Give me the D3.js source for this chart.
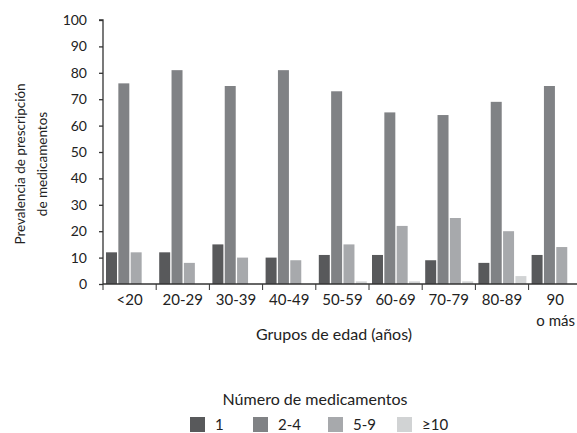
<html>
  <head>
    <meta charset="utf-8">
    <script src="https://d3js.org/d3.v7.min.js"></script>
  </head>
  <body style="margin:0">
    <svg id="chart" width="577" height="433"></svg>
    <script>
      // data
      const groups = ['<20', '20-29', '30-39', '40-49', '50-59', '60-69', '70-79', '80-89', '90\no más'];
      const seriesNames = ['1', '2-4', '5-9', '≥10'];
      const s1 = [12, 12, 15, 10, 11, 11, 9, 8, 11];
      const s2 = [76, 81, 75, 81, 73, 65, 64, 69, 75];
      const s3 = [12, 8, 10, 9, 15, 22, 25, 20, 14];
      const s4 = [0, 0, 0, 0, 1, 1, 1, 3, 0];
      const yTicks = [0, 10, 20, 30, 40, 50, 60, 70, 80, 90, 100];
      const colors = ['#58595b', '#808285', '#a7a9ac', '#d1d3d4'];

      const allSeries = [s1, s2, s3, s4];
      const font = 'Lato, "Open Sans", sans-serif';

      const svg = d3.select('svg#chart');
      const plotLeft = 103, plotTop = 20, plotBottom = 284;
      const groupW = 53.2;

      const xScale = d3.scaleBand().domain(groups).range([plotLeft, plotLeft + groups.length * groupW]);
      const inner = d3.scaleBand().domain(seriesNames).range([3, 51]).paddingInner(0.11);
      const yScale = d3.scaleLinear().domain([0, 100]).range([plotBottom, plotTop]);

      // y axis
      const yAxis = svg.append('g')
        .attr('transform', `translate(${plotLeft},0)`)
        .call(d3.axisLeft(yScale).tickValues(yTicks).tickSize(4).tickPadding(12));
      yAxis.select('.domain').attr('d', `M-4,${plotTop}H0V${plotBottom}`);

      // bars
      allSeries.forEach((vals, si) => {
        svg.append('g').selectAll('rect')
          .data(vals)
          .join('rect')
          .attr('x', (d, i) => xScale(groups[i]) + inner(seriesNames[si]))
          .attr('width', inner.bandwidth())
          .attr('y', d => yScale(d))
          .attr('height', d => plotBottom - yScale(d))
          .attr('fill', colors[si]);
      });

      // x axis: ticks at group boundaries
      const xAxis = svg.append('g').attr('transform', `translate(0,${plotBottom})`);
      xAxis.append('line').attr('x1', plotLeft).attr('x2', 577).attr('stroke', '#333').attr('stroke-width', 1.3);
      xAxis.selectAll('line.tick')
        .data(groups)
        .join('line')
        .attr('class', 'tick')
        .attr('x1', d => xScale(d)).attr('x2', d => xScale(d))
        .attr('y1', 0).attr('y2', 6)
        .attr('stroke', '#333');
      xAxis.selectAll('text')
        .data(groups)
        .join('text')
        .attr('y', 21)
        .attr('text-anchor', 'middle')
        .style('font-family', font)
        .style('font-size', '15px')
        .attr('fill', '#222')
        .each(function(d) {
          const lines = d.split('\n');
          lines.forEach((l, k) => {
            const t = d3.select(this).append('tspan')
              .attr('x', xScale(d) + xScale.bandwidth() / 2)
              .attr('dy', k === 0 ? 0 : 21)
              .text(l);
            // second line of the last label sits flush with the right edge
            if (k > 0) t.attr('x', 575).attr('text-anchor', 'end');
          });
        });

      yAxis.selectAll('.tick text').style('font-family', font).style('font-size', '14px').attr('fill', '#222');
      yAxis.selectAll('.tick line, .domain').attr('stroke', '#333').attr('stroke-width', 1.3);

      // axis titles
      const yTitle = svg.append('text')
        .attr('transform', 'translate(0,164) rotate(-90)')
        .attr('text-anchor', 'middle')
        .style('font-family', font)
        .style('font-size', '13.5px')
        .attr('fill', '#222');
      yTitle.append('tspan').attr('x', 0).attr('y', 25).text('Prevalencia de prescripción');
      yTitle.append('tspan').attr('x', 0).attr('y', 47).text('de medicamentos');

      svg.append('text')
        .attr('x', 334).attr('y', 340)
        .attr('text-anchor', 'middle')
        .style('font-family', font).style('font-size', '16px').attr('fill', '#222')
        .text('Grupos de edad (años)');

      // legend
      svg.append('text')
        .attr('x', 315).attr('y', 405)
        .attr('text-anchor', 'middle')
        .style('font-family', font).style('font-size', '16px').attr('fill', '#222')
        .text('Número de medicamentos');

      const legendX = [190, 253, 328, 397];
      const legend = svg.append('g').selectAll('g')
        .data(seriesNames)
        .join('g')
        .attr('transform', (d, i) => `translate(${legendX[i]},417)`);
      legend.append('rect').attr('width', 15).attr('height', 15).attr('fill', (d, i) => colors[i]);
      legend.append('text')
        .attr('x', 25).attr('y', 13)
        .style('font-family', font).style('font-size', '15px').attr('fill', '#222')
        .text(d => d);
    </script>
  </body>
</html>
